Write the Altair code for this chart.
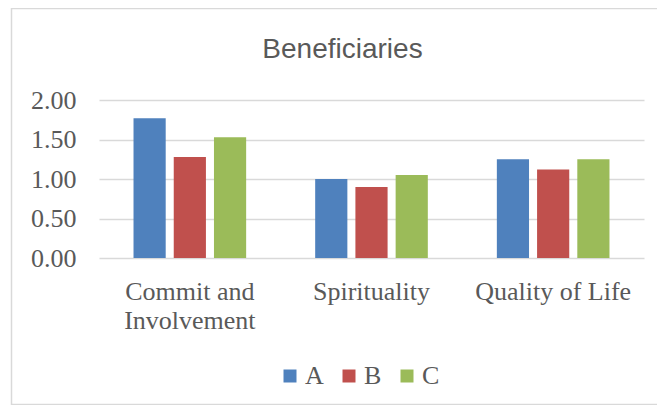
import altair as alt
import pandas as pd

categories = ["Commit and Involvement", "Spirituality", "Quality of Life"]
series = ["A", "B", "C"]
values_A = [1.77, 1.00, 1.25]
values_B = [1.28, 0.90, 1.12]
values_C = [1.53, 1.05, 1.25]
colors = ["#4F81BD", "#C0504D", "#9BBB59"]
y_ticks = [0, 0.5, 1.0, 1.5, 2.0]
title_text = "Beneficiaries"

rows = []
for s, vals in zip(series, [values_A, values_B, values_C]):
    for c, v in zip(categories, vals):
        rows.append({"category": c, "series": s, "value": v})
df = pd.DataFrame(rows)

text_color = "#595959"
serif = "Liberation Serif"

bars = alt.Chart(df).mark_bar().encode(
    x=alt.X(
        "category:N",
        sort=categories,
        title=None,
        scale=alt.Scale(paddingInner=0.38, paddingOuter=0.19),
        axis=alt.Axis(
            labelAngle=0,
            labelFont=serif,
            labelFontSize=26,
            labelColor=text_color,
            labelBaseline="top",
            labelPadding=20,
            labelLineHeight=29,
            labelExpr="datum.value == 'Commit and Involvement' ? ['Commit and', 'Involvement'] : datum.label",
            ticks=False,
            tickSize=0,
            domain=False,
            grid=False,
        ),
    ),
    xOffset=alt.XOffset("series:N", sort=series,
                        scale=alt.Scale(paddingInner=0.2, paddingOuter=0)),
    y=alt.Y(
        "value:Q",
        title=None,
        scale=alt.Scale(domain=[0, 2], nice=False),
        axis=alt.Axis(
            values=y_ticks,
            format=".2f",
            labelFont=serif,
            labelFontSize=26,
            labelColor=text_color,
            labelPadding=23,
            ticks=False,
            tickSize=0,
            domain=False,
            grid=True,
            gridColor="#D9D9D9",
            gridWidth=1.5,
        ),
    ),
    color=alt.Color(
        "series:N",
        sort=series,
        scale=alt.Scale(domain=series, range=colors),
        legend=alt.Legend(
            title=None,
            orient="none",
            direction="horizontal",
            legendX=178,
            legendY=263,
            symbolType="square",
            symbolSize=169,
            symbolStrokeWidth=0,
            labelFont=serif,
            labelFontSize=26,
            labelColor=text_color,
            labelOffset=2,
            columnPadding=12,
            padding=0,
        ),
    ),
)

border = alt.Chart(pd.DataFrame({"d": [0]})).mark_rect(
    fillOpacity=0, stroke="#D9D9D9", strokeWidth=1.5
).encode(
    x=alt.value(-87.5), x2=alt.value(700), y=alt.value(-91.5), y2=alt.value(304.5)
)

title = alt.Chart(pd.DataFrame({"t": [title_text]})).mark_text(
    font="Liberation Sans",
    fontSize=28,
    color=text_color,
    align="center",
    baseline="alphabetic",
).encode(
    text="t:N", x=alt.value(243.5), y=alt.value(-42)
)

chart = alt.layer(border, bars, title).properties(
    width=545,
    height=158,
    autosize=alt.AutoSizeParams(type="none"),
    padding={"left": 91, "top": 92, "right": 13, "bottom": 147},
).configure_view(stroke=None)

chart.save("out.html", embed_options={"renderer": "svg", "actions": False})
